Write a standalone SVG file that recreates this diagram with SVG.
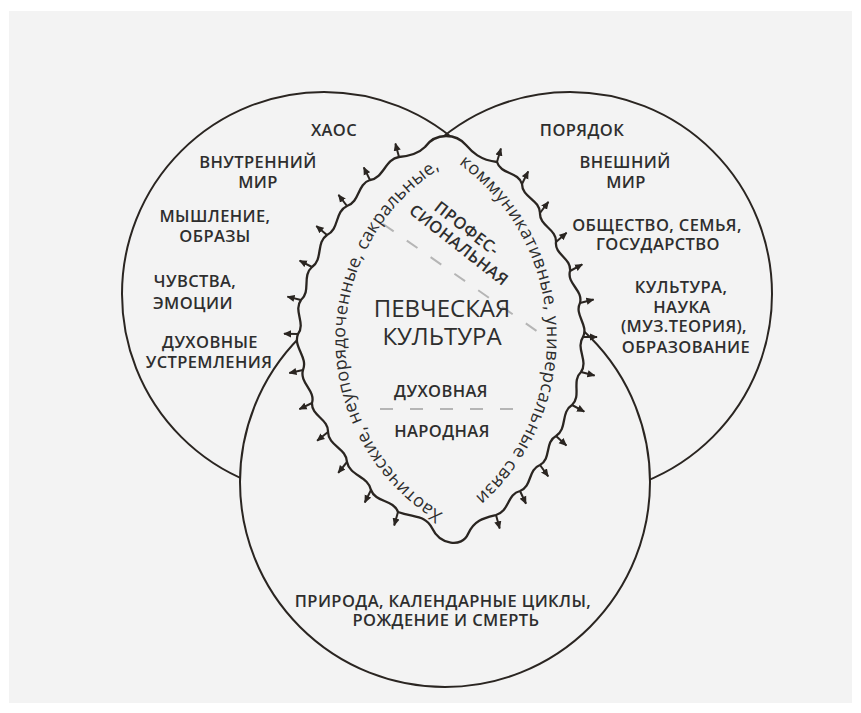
<svg xmlns="http://www.w3.org/2000/svg" width="861" height="713" viewBox="0 0 861 713">
<style>
.bg{fill:#f3f3f3}
.circ{fill:none;stroke:#2a2521;stroke-width:2}
.circf{fill:#f3f3f3;stroke:#2a2521;stroke-width:2}
.wave{fill:#f3f3f3;stroke:#2a2521;stroke-width:2.3;stroke-linejoin:round}
.stub{stroke:#2a2521;stroke-width:2;marker-end:url(#ah)}
.dash{stroke:#b5b5b5;stroke-width:2;stroke-dasharray:13 16;fill:none}
text{font-family:"Open Sans","Noto Sans","DejaVu Sans",sans-serif;fill:#2e2e2e}
.lbl{font-size:16.5px;font-weight:600;text-anchor:middle;letter-spacing:0.4px}
.title{font-size:24px;font-weight:400;text-anchor:middle}
.curve{font-size:18px;font-weight:400}
</style>
<defs>
<marker id="ah" viewBox="0 0 10 10" refX="9" refY="5" markerWidth="8" markerHeight="8" markerUnits="userSpaceOnUse" orient="auto">
<path d="M0,0.5 L10,5 L0,9.5 Z" fill="#2a2521"/>
</marker>
<path id="tpL" d="M443,513 A202,202 0 0 1 446,165"/>
<path id="tpR" d="M458.8,163.9 A214,214 0 0 1 467.7,503.3"/>
</defs>
<rect x="0" y="0" width="861" height="713" fill="#ffffff"/>
<rect class="bg" x="9" y="11" width="843" height="692"/>

<g id="circle-inner-world">
<circle class="circ" cx="324" cy="294" r="202"/>
</g>
<g id="circle-outer-world">
<circle class="circ" cx="570" cy="294" r="202"/>
</g>
<g id="circle-nature">
<circle class="circf" cx="445" cy="482" r="205"/>
</g>

<g id="lens">
<path class="wave" d="M399,157 c-14,2.2 -15,20.8 -29,23 c-12.9,4 -10.1,22 -23,26 c-12.4,5.7 -7.6,23.3 -20,29 c-11.3,7.7 -3.7,24.3 -15,32 c-10.3,8.8 -0.7,24.2 -11,33 c-8,10.7 5,23.3 -3,34 c-5.3,13 10.3,23 5,36 c-3.8,12.9 12.8,20.2 9,33 c-0.8,13.1 16.8,15.9 16,29 c0.4,13.8 18.6,16.3 19,30 c2.7,13.9 21.3,14.1 24,28 c4.6,12.8 22.4,9.2 27,22 C415,518 425,515 432,528 C440,545 462,548 468,534 C474,520 484,518 496,515 c13,-3.1 11.1,-21 24,-24 c12.2,-4.4 7.8,-21.6 20,-26 c11.5,-6.3 4.5,-22.7 16,-29 c11.6,-7.1 4.4,-23.9 16,-31 c9.8,-9.2 -0.8,-23.9 9,-33 c7.7,-11.3 -5.7,-23.7 2,-35 c6,-12 -9,-22.1 -3,-34 c3.4,-12.8 -13.4,-19.2 -10,-32 c1.6,-12.7 -15.6,-16.3 -14,-29 c0.8,-13.1 -16.8,-15.9 -16,-29 c-0.1,-13.4 -18,-15.6 -18,-29 c-3.7,-12.6 -21.3,-9.4 -25,-22 C480,160 472,152 466,145 C460,138 453,136 446,136 C437,136 430,140 425,147 C419,153 410,156 399,157 Z"/>
</g>

<g id="connectors">
<line class="stub" x1="399" y1="157" x2="395.4" y2="143.5"/>
<line class="stub" x1="370" y1="180" x2="363.8" y2="167.4"/>
<line class="stub" x1="347" y1="206" x2="338.5" y2="194.9"/>
<line class="stub" x1="327" y1="235" x2="316.3" y2="225.9"/>
<line class="stub" x1="312" y1="267" x2="299.6" y2="260.6"/>
<line class="stub" x1="301" y1="300" x2="287.4" y2="296.6"/>
<line class="stub" x1="298" y1="334" x2="284" y2="333.7"/>
<line class="stub" x1="303" y1="370" x2="289.3" y2="373.1"/>
<line class="stub" x1="312" y1="403" x2="299.4" y2="409.1"/>
<line class="stub" x1="328" y1="432" x2="317.1" y2="440.7"/>
<line class="stub" x1="347" y1="462" x2="338.2" y2="472.9"/>
<line class="stub" x1="371" y1="490" x2="364.8" y2="502.5"/>
<line class="stub" x1="398" y1="512" x2="394.2" y2="525.5"/>
<line class="stub" x1="497" y1="162" x2="500.9" y2="148.5"/>
<line class="stub" x1="522" y1="184" x2="528.2" y2="171.4"/>
<line class="stub" x1="540" y1="213" x2="548.4" y2="201.8"/>
<line class="stub" x1="556" y1="242" x2="566.6" y2="232.8"/>
<line class="stub" x1="570" y1="271" x2="582.3" y2="264.4"/>
<line class="stub" x1="580" y1="303" x2="593.6" y2="299.5"/>
<line class="stub" x1="583" y1="337" x2="597" y2="337"/>
<line class="stub" x1="581" y1="372" x2="594.6" y2="375.5"/>
<line class="stub" x1="572" y1="405" x2="584.3" y2="411.7"/>
<line class="stub" x1="556" y1="436" x2="566.4" y2="445.4"/>
<line class="stub" x1="540" y1="465" x2="548.2" y2="476.3"/>
<line class="stub" x1="520" y1="491" x2="526" y2="503.7"/>
<line class="stub" x1="496" y1="515" x2="499.7" y2="528.5"/>
</g>

<g id="dividers">
<line class="dash" x1="383" y1="224" x2="541" y2="334"/>
<line class="dash" x1="380" y1="409" x2="513" y2="409" style="stroke-dasharray:13 17"/>
</g>

<g id="labels-inner-world">
<text class="lbl" x="334" y="136">ХАОС</text>
<text class="lbl" x="258" y="168">ВНУТРЕННИЙ</text>
<text class="lbl" x="258" y="188">МИР</text>
<text class="lbl" x="215" y="222">МЫШЛЕНИЕ,</text>
<text class="lbl" x="215" y="242">ОБРАЗЫ</text>
<text class="lbl" x="195" y="287">ЧУВСТВА,</text>
<text class="lbl" x="193" y="309">ЭМОЦИИ</text>
<text class="lbl" x="210" y="348">ДУХОВНЫЕ</text>
<text class="lbl" x="209" y="368">УСТРЕМЛЕНИЯ</text>
</g>
<g id="labels-outer-world">
<text class="lbl" x="582" y="136">ПОРЯДОК</text>
<text class="lbl" x="625" y="168">ВНЕШНИЙ</text>
<text class="lbl" x="626" y="188">МИР</text>
<text class="lbl" x="657" y="231">ОБЩЕСТВО, СЕМЬЯ,</text>
<text class="lbl" x="658" y="250">ГОСУДАРСТВО</text>
<text class="lbl" x="681" y="293">КУЛЬТУРА,</text>
<text class="lbl" x="682" y="313">НАУКА</text>
<text class="lbl" x="684" y="332">(МУЗ.ТЕОРИЯ),</text>
<text class="lbl" x="686" y="353">ОБРАЗОВАНИЕ</text>
</g>
<g id="labels-nature">
<text class="lbl" x="443" y="607">ПРИРОДА, КАЛЕНДАРНЫЕ ЦИКЛЫ,</text>
<text class="lbl" x="446" y="626">РОЖДЕНИЕ И СМЕРТЬ</text>
</g>
<g id="labels-culture">
<text class="title" x="442" y="317">ПЕВЧЕСКАЯ</text>
<text class="title" x="442" y="345">КУЛЬТУРА</text>
<text class="lbl" x="441" y="397">ДУХОВНАЯ</text>
<text class="lbl" x="442" y="437">НАРОДНАЯ</text>
<g transform="translate(463,236.5) rotate(38)">
<text class="lbl" x="-2" y="-3">ПРОФЕС-</text>
<text class="lbl" x="2" y="15">СИОНАЛЬНАЯ</text>
</g>
<text class="curve"><textPath href="#tpL" textLength="412" lengthAdjust="spacing">Хаотические, неупорядоченные, сакральные,</textPath></text>
<text class="curve"><textPath href="#tpR" textLength="382" lengthAdjust="spacing">коммуникативные, универсальные связи</textPath></text>
</g>
</svg>
